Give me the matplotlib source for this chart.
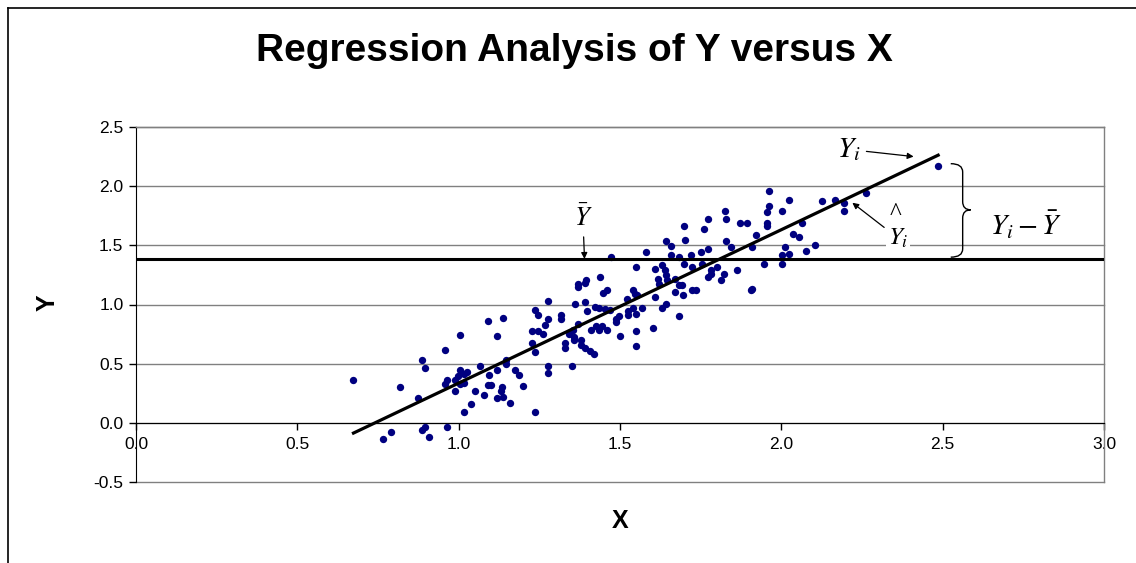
import numpy as np
import matplotlib
matplotlib.use("Agg")
import matplotlib.pyplot as plt
from matplotlib.path import Path
from matplotlib.patches import PathPatch
from matplotlib.lines import Line2D

# scatter values
x_vals = np.array([
    0.674, 0.765, 0.789, 0.817, 0.874, 0.885, 0.896, 0.885, 0.896, 0.908,
    0.959, 0.965, 1.004, 0.959, 0.965, 0.988, 0.988, 0.999, 1.004, 1.017,
    1.027, 1.017, 1.004, 1.016, 1.050, 1.038, 1.067, 1.079, 1.090, 1.136,
    1.118, 1.095, 1.090, 1.100, 1.118, 1.146, 1.146, 1.134, 1.131, 1.118,
    1.136, 1.158, 1.174, 1.187, 1.198, 1.237, 1.237, 1.247, 1.226, 1.247,
    1.226, 1.237,
    1.278, 1.278, 1.351, 1.262, 1.268, 1.278, 1.278, 1.317, 1.317, 1.328,
    1.328, 1.343, 1.354, 1.357, 1.357, 1.369, 1.379, 1.379, 1.390, 1.408,
    1.419, 1.359, 1.390, 1.398, 1.421, 1.436, 1.452, 1.468, 1.411, 1.426,
    1.436, 1.445, 1.460, 1.488, 1.488, 1.496, 1.499, 1.525, 1.525, 1.540,
    1.551, 1.551, 1.551, 1.568, 1.603, 1.630, 1.644, 1.682,
    1.369, 1.369, 1.395, 1.390, 1.439, 1.447, 1.460, 1.471, 1.523, 1.540,
    1.545, 1.554, 1.551, 1.580, 1.607, 1.607, 1.618, 1.620, 1.630, 1.639,
    1.644, 1.647, 1.642, 1.659, 1.659, 1.672, 1.672, 1.682, 1.683, 1.693,
    1.696, 1.699, 1.701, 1.699, 1.719, 1.724, 1.722, 1.734, 1.751, 1.753,
    1.761, 1.774, 1.774, 1.774, 1.781, 1.782, 1.802, 1.813, 1.823, 1.825,
    1.830, 1.830,
    1.843, 1.864, 1.906, 1.910, 1.962, 1.962, 1.955, 1.872, 1.893, 1.922,
    1.910, 1.955, 1.955, 2.002, 2.024, 2.064, 2.035, 2.054, 2.012, 2.002,
    2.024, 2.002, 1.945, 2.076, 2.103, 2.126, 2.167, 2.195, 2.195, 2.263,
    2.486,
])
y_vals = np.array([
    0.361, -0.134, -0.078, 0.306, 0.210, 0.534, 0.463, -0.063, -0.035, -0.120,
    0.618, -0.035, 0.745, 0.325, 0.365, 0.269, 0.365, 0.393, 0.443, 0.415,
    0.432, 0.336, 0.331, 0.095, 0.266, 0.162, 0.477, 0.232, 0.860, 0.889,
    0.733, 0.404, 0.319, 0.319, 0.449, 0.534, 0.500, 0.302, 0.269, 0.210,
    0.218, 0.167, 0.449, 0.404, 0.308, 0.095, 0.950, 0.908, 0.775, 0.775,
    0.677, 0.595,
    0.477, 0.421, 0.477, 0.753, 0.823, 0.880, 1.026, 0.908, 0.880, 0.674,
    0.635, 0.753, 0.781, 0.725, 0.703, 0.832, 0.703, 0.655, 0.635, 0.606,
    0.579, 1.001, 1.020, 0.944, 0.978, 0.973, 0.965, 0.950, 0.787, 0.815,
    0.781, 0.815, 0.787, 0.880, 0.851, 0.899, 0.733, 0.944, 0.908, 0.973,
    0.775, 0.649, 0.916, 0.973, 0.804, 0.973, 1.001, 0.902,
    1.170, 1.147, 1.204, 1.181, 1.232, 1.100, 1.119, 1.400, 1.049, 1.119,
    1.091, 1.077, 1.316, 1.443, 1.302, 1.063, 1.218, 1.176, 1.330, 1.288,
    1.246, 1.204, 1.533, 1.491, 1.415, 1.218, 1.105, 1.400, 1.161, 1.167,
    1.077, 1.660, 1.541, 1.345, 1.415, 1.316, 1.119, 1.119, 1.443, 1.345,
    1.640, 1.725, 1.471, 1.232, 1.260, 1.288, 1.316, 1.204, 1.260, 1.789,
    1.725, 1.533,
    1.485, 1.288, 1.119, 1.133, 1.958, 1.831, 1.780, 1.688, 1.688, 1.590,
    1.485, 1.688, 1.660, 1.786, 1.885, 1.688, 1.592, 1.569, 1.485, 1.415,
    1.429, 1.345, 1.345, 1.448, 1.499, 1.871, 1.885, 1.786, 1.857, 1.941,
    2.169,
])

# fitted line and mean as drawn in the picture
reg_slope = 1.296
reg_intercept = -0.960
y_mean = 1.385

x_ticks = [0.0, 0.5, 1.0, 1.5, 2.0, 2.5, 3.0]
y_ticks = [-0.5, 0.0, 0.5, 1.0, 1.5, 2.0, 2.5]

plt.rcParams["font.family"] = ["Liberation Sans", "DejaVu Sans"]
plt.rcParams["mathtext.fontset"] = "stix"

W, H = 1136, 563
fig = plt.figure(figsize=(W / 100, H / 100), dpi=100)
ax = fig.add_axes([136 / W, 1 - 482 / H, (1104 - 136) / W, (482 - 127) / H])
ax.set_xlim(0, 3)
ax.set_ylim(-0.5, 2.5)

# grid + plot-area frame
for yv in y_ticks:
    ax.axhline(yv, color="#808080", lw=1.0, zorder=0, clip_on=False)
for side in ["top", "right"]:
    ax.spines[side].set_color("#808080")
    ax.spines[side].set_linewidth(1.0)
ax.spines["left"].set_color("black")
ax.spines["bottom"].set_position(("data", 0))
ax.spines["bottom"].set_color("black")

ax.set_xticks(x_ticks)
ax.set_xticklabels(["%.1f" % v for v in x_ticks])
ax.set_yticks(y_ticks)
ax.set_yticklabels(["%.1f" % v for v in y_ticks])
ax.tick_params(axis="x", direction="out", length=5, width=1, pad=5, labelsize=12.5)
ax.tick_params(axis="y", direction="out", length=5, width=1, pad=4, labelsize=12.5)

ax.scatter(x_vals, y_vals, s=28, color="#000080", linewidths=0, zorder=3)

xs = np.array([x_vals.min(), x_vals.max()])
ax.plot(xs, reg_intercept + reg_slope * xs, color="black", lw=2.3, zorder=4)
ax.axhline(y_mean, color="black", lw=2.2, zorder=4)

arrow = dict(arrowstyle="-|>", color="black", lw=0.9, mutation_scale=9,
             shrinkA=2, shrinkB=0)

ax.annotate(r"$\bar{Y}$", xy=(1.39, y_mean), xytext=(1.385, 1.73),
            ha="center", va="center", fontsize=19, arrowprops=arrow)
ax.annotate(r"$Y_i$", xy=(2.41, 2.25), xytext=(2.21, 2.31),
            ha="center", va="center", fontsize=21, arrowprops=arrow)
ax.text(2.354, 1.765, "^", ha="center", va="center", fontsize=18,
        family="Liberation Serif")
ax.annotate(r"$Y_i$", xy=(2.22, 1.86), xytext=(2.362, 1.56),
            ha="center", va="center", fontsize=18, zorder=5,
            bbox=dict(fc="white", ec="none", pad=1), arrowprops=arrow)
ax.text(2.757, 1.676, r"$Y_i - \bar{Y}$", ha="center", va="center", fontsize=21)

# curly brace between Y_i and the mean
bt, bb, bm = 2.19, 1.40, 1.80
bl, bv, bp = 2.525, 2.562, 2.587
verts = [(bl, bt), (bv, bt), (bv, bt - 0.07),
         (bv, bm + 0.07),
         (bv, bm), (bp, bm),
         (bv, bm), (bv, bm - 0.07),
         (bv, bb + 0.07),
         (bv, bb), (bl, bb)]
codes = [Path.MOVETO, Path.CURVE3, Path.CURVE3,
         Path.LINETO,
         Path.CURVE3, Path.CURVE3,
         Path.CURVE3, Path.CURVE3,
         Path.LINETO,
         Path.CURVE3, Path.CURVE3]
ax.add_patch(PathPatch(Path(verts, codes), fc="none", ec="black", lw=1.0,
                       clip_on=False))

fig.text(574 / W, 1 - 51 / H, "Regression Analysis of Y versus X",
         ha="center", va="center", fontsize=28, fontweight="bold")
fig.text(620 / W, 1 - 521 / H, "X", ha="center", va="center",
         fontsize=18, fontweight="bold")
fig.text(48 / W, 1 - 303 / H, "Y", ha="center", va="center",
         fontsize=18, fontweight="bold", rotation=90)

# chart-area border (left and top edges visible)
fig.add_artist(Line2D([8 / W, 8 / W], [0, 1 - 8 / H], color="black", lw=1.2))
fig.add_artist(Line2D([8 / W, 1], [1 - 8 / H, 1 - 8 / H], color="black", lw=1.2))

fig.savefig("out.png", dpi=100)
